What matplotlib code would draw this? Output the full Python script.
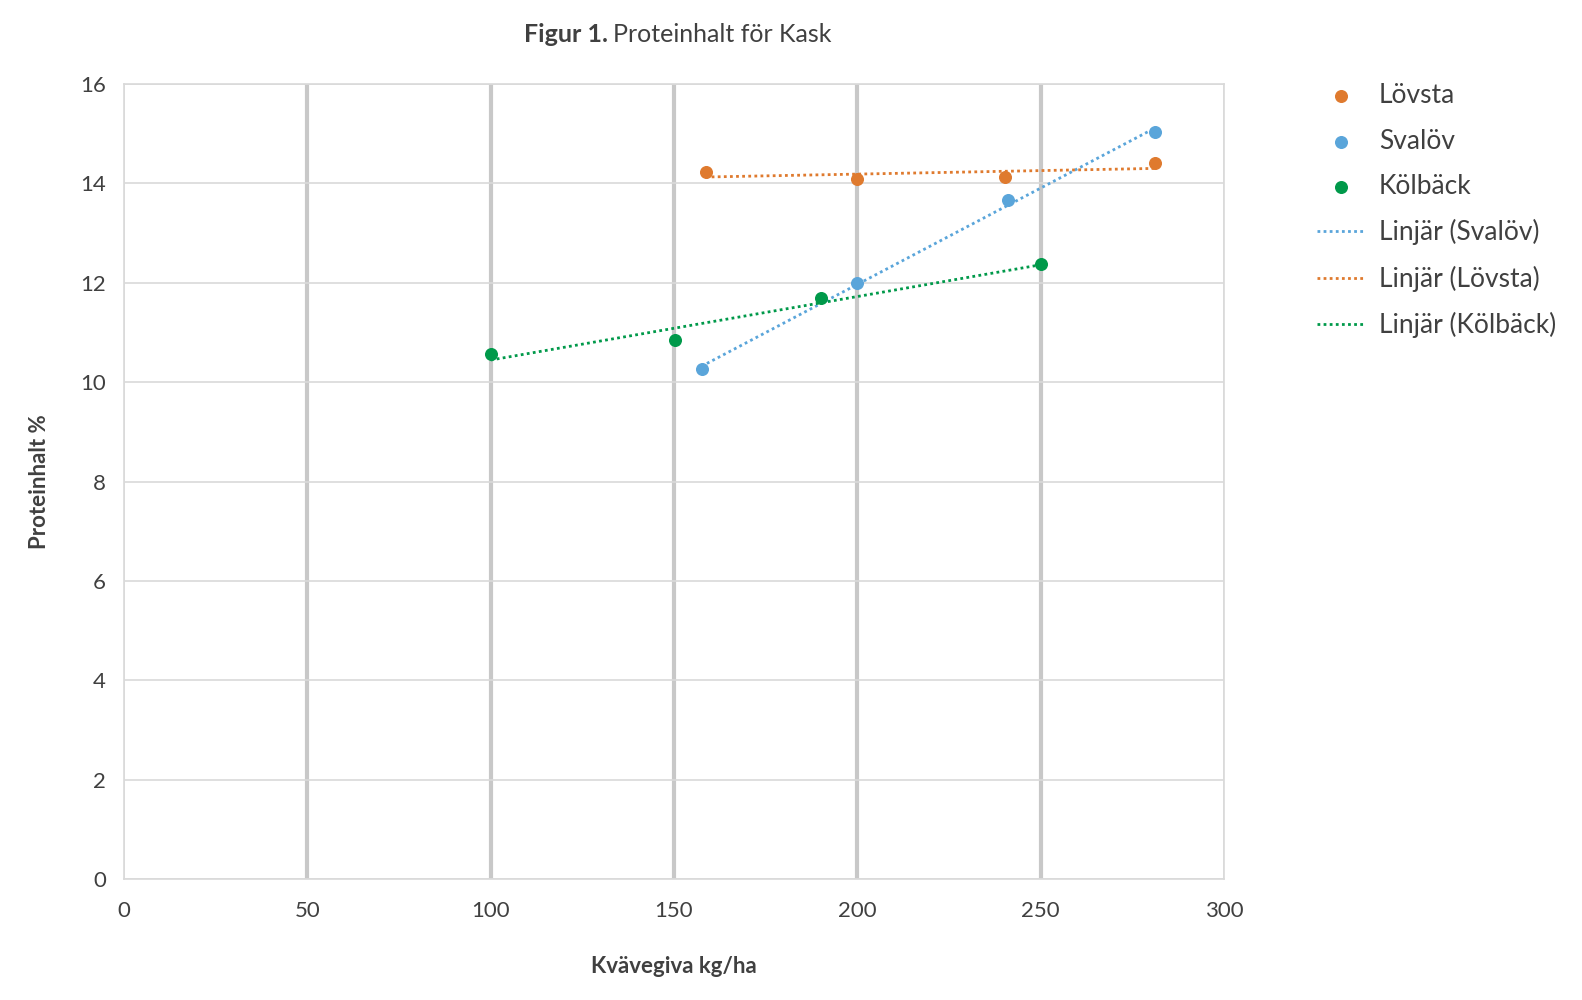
import numpy as np
import matplotlib.pyplot as plt

plt.rcParams['font.family'] = ['Lato', 'DejaVu Sans']

# data
lovsta_x = [158.6, 200, 240.4, 281.3]
lovsta_y = [14.23, 14.09, 14.13, 14.41]
svalov_x = [157.5, 200, 241.0, 281.3]
svalov_y = [10.26, 12.0, 13.67, 15.03]
kolback_x = [100, 150.2, 190.0, 250.2]
kolback_y = [10.56, 10.85, 11.70, 12.38]

c_orange = '#DF7A2E'
c_blue = '#5AA5DA'
c_green = '#00994A'
txt = '#404040'

fig = plt.figure(figsize=(15.82, 10), dpi=100)
ax = fig.add_axes([0.0784, 0.121, 0.6953, 0.795])

def trend(x, y):
    k, m = np.polyfit(x, y, 1)
    xs = np.array([min(x), max(x)])
    return xs, k*xs + m

h1 = ax.scatter(lovsta_x, lovsta_y, s=70, color=c_orange, zorder=4, label='Lövsta')
h2 = ax.scatter(svalov_x, svalov_y, s=70, color=c_blue, zorder=4, label='Svalöv')
h3 = ax.scatter(kolback_x, kolback_y, s=70, color=c_green, zorder=4, label='Kölbäck')

xs, ys = trend(svalov_x, svalov_y)
l1, = ax.plot(xs, ys, ls=(0, (1, 1.2)), lw=2, color=c_blue, zorder=3, label='Linjär (Svalöv)')
xs, ys = trend(lovsta_x, lovsta_y)
l2, = ax.plot(xs, ys, ls=(0, (1, 1.2)), lw=2, color=c_orange, zorder=3, label='Linjär (Lövsta)')
xs, ys = trend(kolback_x, kolback_y)
l3, = ax.plot(xs, ys, ls=(0, (1, 1.2)), lw=2, color=c_green, zorder=3, label='Linjär (Kölbäck)')

ax.set_xlim(0, 300)
ax.set_ylim(0, 16)
ax.set_xticks(np.arange(0, 301, 50))
ax.set_yticks(np.arange(0, 17, 2))
ax.tick_params(length=0, labelsize=16, labelcolor=txt)
ax.tick_params(axis='x', pad=16)
ax.tick_params(axis='y', pad=13)

ax.set_axisbelow(True)
ax.grid(axis='y', color='#d9d9d9', lw=1.2)
ax.grid(axis='x', color='#c8c8c8', lw=3)
gl = ax.xaxis.get_gridlines()
gl[0].set_linewidth(1.2)
gl[-1].set_linewidth(1.2)
gl[0].set_color('#d9d9d9')
gl[-1].set_color('#d9d9d9')
for s in ax.spines.values():
    s.set_color('#d9d9d9')
    s.set_linewidth(1.2)

ax.set_xlabel('Kvävegiva kg/ha', fontsize=16, fontweight='bold', color=txt, labelpad=25)
ax.set_ylabel('Proteinhalt %', fontsize=16, fontweight='bold', color=txt, labelpad=22)

fig.text(0.3845, 0.966, 'Figur 1.', fontsize=18, fontweight='bold', color=txt, ha='right', va='center')
fig.text(0.3875, 0.966, 'Proteinhalt för Kask', fontsize=18, color=txt, ha='left', va='center')

ax.legend(handles=[h1, h2, h3, l1, l2, l3], loc='upper left', bbox_to_anchor=(1.075, 1.014),
          frameon=False, fontsize=19, labelcolor=txt, handlelength=1.8, handletextpad=0.55,
          labelspacing=0.77, borderaxespad=0)

fig.savefig('out.png', dpi=100, facecolor='white')
